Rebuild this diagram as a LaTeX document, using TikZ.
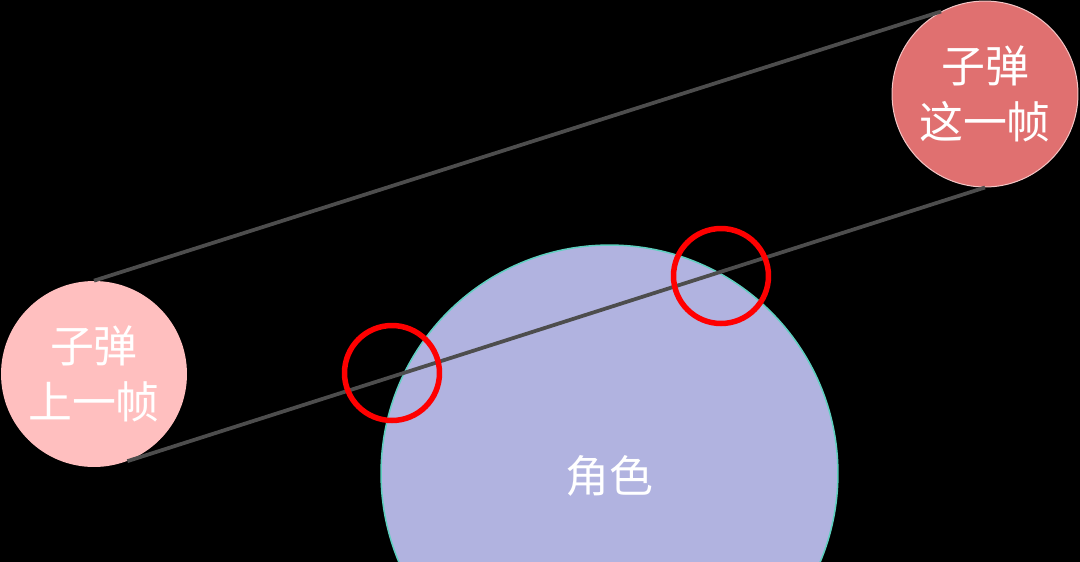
\documentclass[tikz,border=0pt]{standalone}
\usepackage{fontspec}
\newfontfamily\cjk{Noto Sans CJK SC}
\usetikzlibrary{positioning}
\definecolor{lastpink}{HTML}{FFBFBF}
\definecolor{thisred}{HTML}{E07070}
\definecolor{rolepurple}{HTML}{B1B3E0}
\definecolor{roleedge}{HTML}{5FCFC0}
\definecolor{pathgray}{HTML}{4D4D4D}

\begin{document}
\begin{tikzpicture}[x=0.02cm,y=-0.02cm,
	ball/.style={circle,minimum size=3.72cm,inner sep=0pt,text=white,align=center,font=\cjk\fontsize{25}{32}\selectfont},
	hit/.style={circle,draw=red,line width=0.11cm,minimum size=1.9cm,inner sep=0pt},
	track/.style={draw=pathgray,line width=0.075cm}]
	\fill[black] (0,0) rectangle (1080,562);
	\useasboundingbox (0,0) rectangle (1080,562);

\node[circle,fill=rolepurple,draw=roleedge,line width=0.03cm,minimum size=9.14cm,inner sep=0pt] (role) at (609.5,473.5) {};
\node[text=white,font=\cjk\fontsize{25}{32}\selectfont] (rolename) at (609.5,476) {角色};
\node[ball,fill=lastpink] (lastframe) at (94,374) {子弹\\上一帧};
\node[ball,fill=thisred,draw=thisred!40!white,line width=0.02cm] (thisframe) at (985,94) {子弹\\这一帧};

\draw[track] (lastframe.90) -- (thisframe.118);
\draw[track] (lastframe.-69) -- (thisframe.-90);

\node[hit] (hitin) at (392,373) {};
\node[hit] (hitout) at (721,276) {};

	\end{tikzpicture}
\end{document}
